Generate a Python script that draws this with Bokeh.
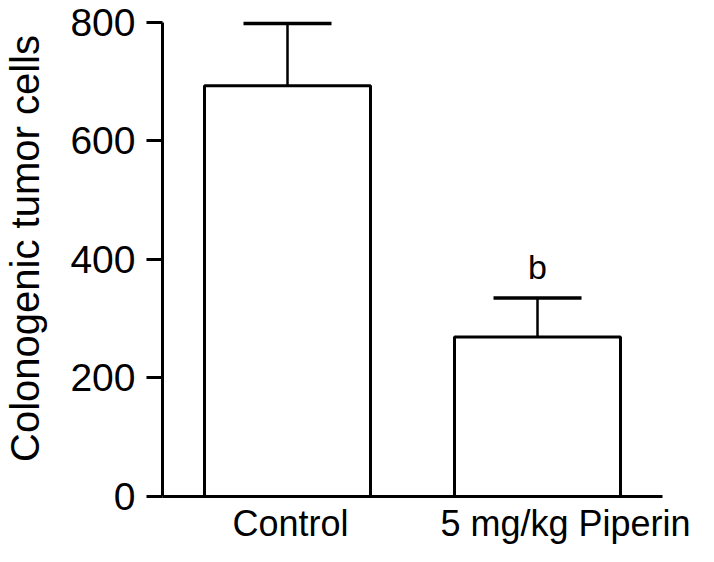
from bokeh.plotting import figure
from bokeh.models import (ColumnDataSource, Whisker, TeeHead, LabelSet, Range1d,
                          FixedTicker)
from bokeh.core.properties import value
from bokeh.embed import file_html
from bokeh.resources import INLINE

# ---- data ----
categories = ["Control", "5 mg/kg Piperin"]
means = [693, 269]
upper = [798, 335]
sig_labels = ["", "b"]
y_ticks = [0, 200, 400, 600, 800]
y_label = "Colonogenic tumor cells"

# ---- style ----
FONT = "Liberation Sans"
label_shift = [0.012, 0.112]   # horizontal shift of category labels (in category widths)

xpos = [i + 0.5 for i in range(len(categories))]   # category slot centres
src = ColumnDataSource(dict(x=xpos, cat=categories, mean=means, upper=upper))

p = figure(x_range=Range1d(0, len(categories)), y_range=Range1d(0, 837),
           width=698, height=546, output_backend="svg", toolbar_location=None,
           min_border_left=162, min_border_right=36, min_border_top=0,
           min_border_bottom=48)
p.outline_line_color = None
p.xgrid.visible = False
p.ygrid.visible = False
p.background_fill_color = "white"
p.border_fill_color = "white"

p.vbar(x="x", top="mean", bottom=0, width=0.664, source=src,
       fill_color="white", line_color="black", line_width=3)

p.add_layout(Whisker(source=src, base="x", lower="mean", upper="upper",
                     upper_head=TeeHead(size=88, line_width=3.5, line_color="black"),
                     lower_head=None, line_width=2.5, line_color="black"))

# x axis with category labels
label_pos = [x + s for x, s in zip(xpos, label_shift)]
xa = p.xaxis[0]
xa.ticker = FixedTicker(ticks=label_pos)
xa.major_label_overrides = {pos: c for pos, c in zip(label_pos, categories)}
xa.axis_line_width = 3
xa.axis_line_color = "black"
xa.major_tick_out = 0
xa.major_tick_in = 0
xa.minor_tick_out = 0
xa.minor_tick_in = 0
xa.major_label_text_font = FONT
xa.major_label_text_font_size = "36px"
xa.major_label_text_color = "black"
xa.major_label_standoff = 6

# y axis
ya = p.yaxis[0]
ya.ticker = FixedTicker(ticks=y_ticks)
ya.bounds = (0, 800)
ya.axis_line_width = 3
ya.axis_line_color = "black"
ya.major_tick_line_width = 3
ya.major_tick_line_color = "black"
ya.major_tick_out = 16
ya.major_tick_in = 0
ya.minor_tick_out = 0
ya.minor_tick_in = 0
ya.major_label_text_font = FONT
ya.major_label_text_font_size = "39px"
ya.major_label_text_color = "black"
ya.major_label_standoff = 11
ya.axis_label = y_label
ya.axis_label_text_font = FONT
ya.axis_label_text_font_size = "40px"
ya.axis_label_text_font_style = "normal"
ya.axis_label_text_color = "black"
ya.axis_label_standoff = 20

# significance letters
sig_src = ColumnDataSource(dict(
    x=[x for x, s in zip(xpos, sig_labels) if s],
    upper=[u for u, s in zip(upper, sig_labels) if s],
    sig=[s for s in sig_labels if s]))
p.add_layout(LabelSet(x="x", y="upper", text="sig", source=sig_src, y_offset=19,
                      text_align="center", text_baseline="alphabetic",
                      text_font=value(FONT), text_font_size="34px", text_color="black"))

open("out.html", "w").write(file_html(p, INLINE))
